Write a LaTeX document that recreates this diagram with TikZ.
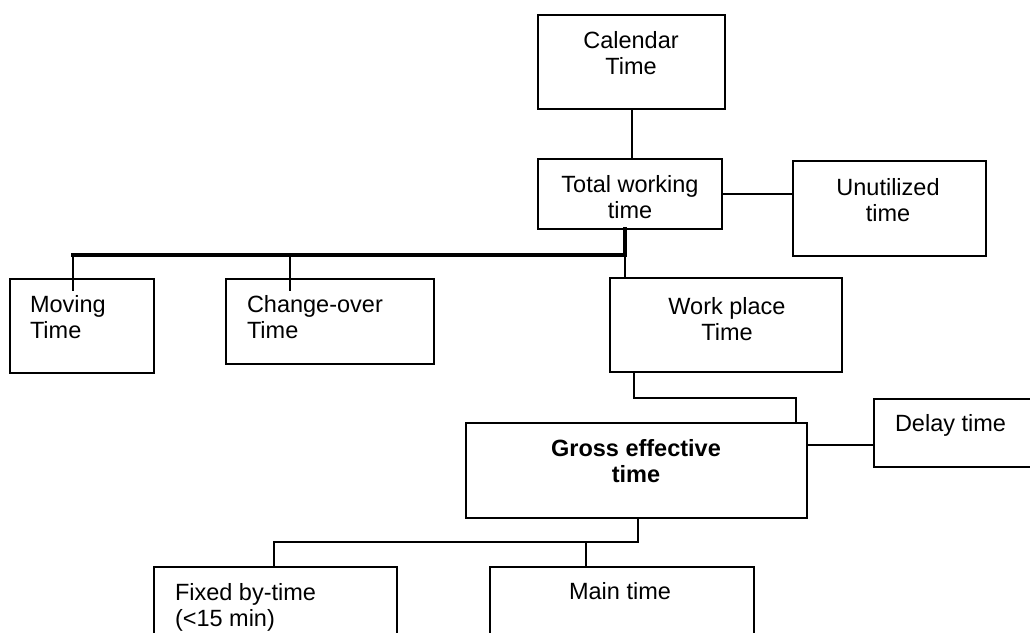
\documentclass[tikz,border=0pt]{standalone}
\usepackage{fontspec}
\setmainfont{Liberation Sans}
\begin{document}
\begin{tikzpicture}[x=1pt,y=-1pt,
  box/.style={draw=black, line width=1.9pt, rectangle, inner sep=0pt, outer sep=0pt, anchor=north west},
  txt/.style={inner sep=0pt, outer sep=0pt, align=center, anchor=north, font=\fontsize{23.5}{26}\selectfont},
  txtl/.style={txt, align=left, anchor=north west},
  conn/.style={line width=2pt, line cap=rect},
  bus/.style={line width=3.4pt, line cap=rect}]
\useasboundingbox (0,0) rectangle (1030,632);
\clip (0,0) rectangle (1030,632);

% boxes
\node[box, minimum width=187pt, minimum height=94pt] (cal) at (538,15) {};
\node[box, minimum width=184pt, minimum height=70pt] (tot) at (538,159) {};
\node[box, minimum width=193pt, minimum height=95pt] (unu) at (793,161) {};
\node[box, minimum width=144pt, minimum height=94pt] (mov) at (10,279) {};
\node[box, minimum width=208pt, minimum height=85pt] (chg) at (226,279) {};
\node[box, minimum width=232pt, minimum height=94pt] (wrk) at (610,278) {};
\node[box, minimum width=341pt, minimum height=95pt] (gross) at (466,423) {};
\node[box, minimum width=180pt, minimum height=68pt] (del) at (874,399) {};
\node[box, minimum width=243pt, minimum height=90pt] (fix) at (154,567) {};
\node[box, minimum width=264pt, minimum height=90pt] (main) at (490,567) {};

% labels
\node[txt] (calT) at (631,31) {Calendar\\Time};
\node[txt] (totT) at (630,175) {Total working\\time};
\node[txt] (unuT) at (888,178) {Unutilized\\time};
\node[txtl] (movT) at (30,295) {Moving\\Time};
\node[txtl] (chgT) at (247,295) {Change-over\\Time};
\node[txt] (wrkT) at (727,297) {Work place\\Time};
\node[txt, font=\fontsize{23.5}{26}\selectfont\bfseries] (grossT) at (636,439) {Gross effective\\time};
\node[txtl] (delT) at (895,414) {Delay time};
\node[txt] (mainT) at (620,582) {Main time};
\node[txtl] (fixT) at (175,583) {Fixed by-time\\(<15 min)};

% connector end points
\coordinate (busR) at (625,255);
\coordinate (movTick) at (73,290);
\coordinate (chgTick) at (290,290);
\coordinate (wgL) at (634,398);
\coordinate (wgR) at (796,398);
\coordinate (gdY) at (807,445);
\coordinate (gfR) at (638,542);
\coordinate (fixTick) at (274,542);
\coordinate (mainTick) at (586,542);

% connectors
\draw[conn] (cal.south) -- (cal.south |- tot.north);
\draw[conn] (tot.east) -- (tot.east -| unu.west);
\draw[bus] (tot.south -| busR) -- (busR) -- (busR -| movTick);
\draw[conn] (busR -| movTick) -- (movTick);
\draw[conn] (busR -| chgTick) -- (chgTick);
\draw[conn] (busR) -- (busR |- wrk.north);
\draw[conn] (wrk.south -| wgL) -- (wgL) -- (wgR) -- (wgR |- gross.north);
\draw[conn] (gdY) -- (gdY -| del.west);
\draw[conn] (gross.south -| gfR) -- (gfR) -- (fixTick) -- (fixTick |- fix.north);
\draw[conn] (mainTick) -- (mainTick |- main.north);
\end{tikzpicture}
\end{document}
